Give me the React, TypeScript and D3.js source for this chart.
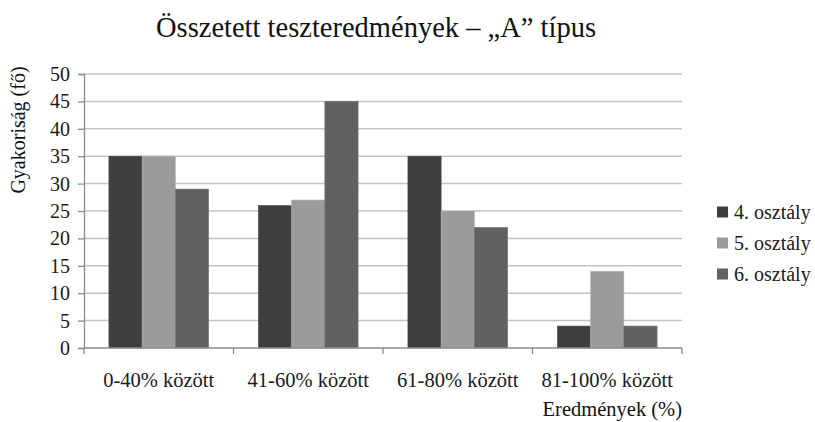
import React, { useEffect, useRef } from "react";
import * as d3 from "d3";

const categories = ["0-40% között", "41-60% között", "61-80% között", "81-100% között"];
const seriesNames = ["4. osztály", "5. osztály", "6. osztály"];
const grade4 = [35, 26, 35, 4];
const grade5 = [35, 27, 25, 14];
const grade6 = [29, 45, 22, 4];
const yTicks = [0, 5, 10, 15, 20, 25, 30, 35, 40, 45, 50];
const colors = ["#3f3f3f", "#9b9b9b", "#616161"];

const FONT = "Liberation Serif, Times New Roman, Times, serif";

export default function App() {
    const ref = useRef<SVGSVGElement>(null);

    useEffect(() => {
        document.body.style.margin = "0";
        const width = 815;
        const height = 422;
        const margin = { top: 74, right: 133, bottom: 74, left: 84 };
        const innerWidth = width - margin.left - margin.right;
        const innerHeight = height - margin.top - margin.bottom;

        const svg = d3.select(ref.current).attr("width", width).attr("height", height);
        svg.selectAll("*").remove();
        svg.append("rect").attr("width", width).attr("height", height).attr("fill", "#fff");

        const g = svg.append("g").attr("transform", `translate(${margin.left}, ${margin.top})`);

        const series = [grade4, grade5, grade6];
        const rows = categories.map((c, i) => ({ cat: c, values: series.map(s => s[i]) }));

        const xScale = d3.scaleBand().domain(categories).range([0, innerWidth]);
        const inner = d3.scaleBand<number>().domain([0, 1, 2])
            .range([xScale.bandwidth() / 6, xScale.bandwidth() * 5 / 6]);
        const yScale = d3.scaleLinear().domain([0, 50]).range([innerHeight, 0]);

        // gridlines
        g.selectAll(".grid").data(yTicks.filter(t => t > 0)).enter()
            .append("line")
            .attr("x1", 0).attr("x2", innerWidth)
            .attr("y1", d => yScale(d)).attr("y2", d => yScale(d))
            .attr("stroke", "#c3c3c3").attr("stroke-width", 1.5);

        // bars
        const groups = g.selectAll(".grp").data(rows).enter()
            .append("g")
            .attr("transform", d => `translate(${xScale(d.cat)}, 0)`);
        groups.selectAll("rect").data(d => d.values).enter()
            .append("rect")
            .attr("x", (_d, i) => inner(i) as number)
            .attr("y", d => yScale(d))
            .attr("width", inner.bandwidth())
            .attr("height", d => innerHeight - yScale(d))
            .attr("fill", (_d, i) => colors[i])
            .attr("stroke", (_d, i) => d3.color(colors[i])!.brighter(0.4).toString())
            .attr("stroke-width", 0.6);

        // y axis
        const yAxis = g.append("g").call(d3.axisLeft(yScale).tickValues(yTicks).tickSize(6).tickPadding(8));
        yAxis.attr("font-family", null);
        yAxis.select(".domain").attr("stroke", "#8c8c8c").attr("stroke-width", 1.3);
        yAxis.selectAll(".tick line").attr("stroke", "#8c8c8c").attr("stroke-width", 1.3);
        yAxis.selectAll("text").style("font-family", FONT).style("font-size", "20px").attr("fill", "#1a1a1a");

        // x axis
        const xAxisG = g.append("g").attr("transform", `translate(0, ${innerHeight})`);
        xAxisG.append("line").attr("x1", 0).attr("x2", innerWidth)
            .attr("stroke", "#8c8c8c").attr("stroke-width", 1.3);
        const bounds = [0, ...categories.map(c => (xScale(c) as number) + xScale.bandwidth())];
        xAxisG.selectAll(".xt").data(bounds).enter()
            .append("line")
            .attr("x1", d => d).attr("x2", d => d)
            .attr("y1", 0).attr("y2", 6)
            .attr("stroke", "#8c8c8c").attr("stroke-width", 1.3);
        xAxisG.selectAll(".xl").data(categories).enter()
            .append("text")
            .attr("x", d => (xScale(d) as number) + xScale.bandwidth() / 2)
            .attr("y", 39)
            .attr("text-anchor", "middle")
            .style("font-family", FONT).style("font-size", "20.5px").attr("fill", "#1a1a1a")
            .text(d => d);

        // titles
        svg.append("text")
            .attr("x", 376).attr("y", 37)
            .attr("text-anchor", "middle")
            .style("font-family", FONT).style("font-size", "28.5px").attr("fill", "#111")
            .text("Összetett teszteredmények – „A” típus");

        svg.append("text")
            .attr("x", margin.left + innerWidth).attr("y", 416)
            .attr("text-anchor", "end")
            .style("font-family", FONT).style("font-size", "20.5px").attr("fill", "#111")
            .text("Eredmények (%)");

        svg.append("text")
            .attr("transform", "translate(25, 130) rotate(-90)")
            .attr("text-anchor", "middle")
            .style("font-family", FONT).style("font-size", "20px").attr("fill", "#111")
            .text("Gyakoriság (fő)");

        // legend
        const legend = svg.append("g").attr("transform", "translate(717, 212)");
        const items = legend.selectAll(".li").data(seriesNames).enter()
            .append("g")
            .attr("transform", (_d, i) => `translate(0, ${i * 31})`);
        items.append("rect")
            .attr("x", 0).attr("y", -5.5)
            .attr("width", 11).attr("height", 11)
            .attr("fill", (_d, i) => colors[i]);
        items.append("text")
            .attr("x", 17).attr("y", 0)
            .attr("dy", "0.35em")
            .style("font-family", FONT).style("font-size", "20px").attr("fill", "#1a1a1a")
            .text(d => d);
    }, []);

    return <svg ref={ref} style={{ display: "block" }}></svg>;
}
